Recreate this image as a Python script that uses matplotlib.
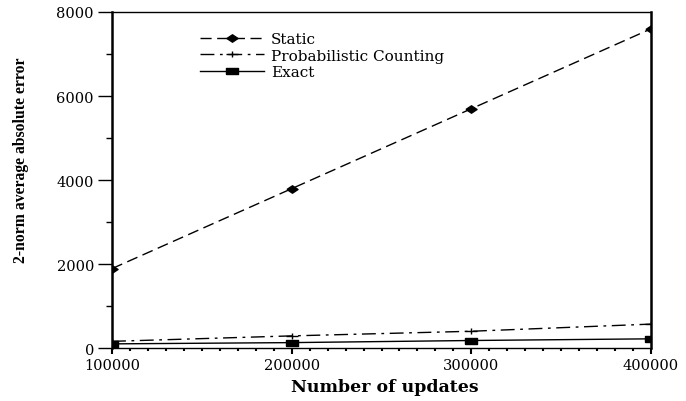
import matplotlib.pyplot as plt
from matplotlib.path import Path
from matplotlib.ticker import MultipleLocator

updates = [100000, 200000, 300000, 400000]
static_err = [1900, 3800, 5700, 7600]
prob_err = [170, 300, 410, 580]
exact_err = [110, 140, 190, 230]

# wide, flat marker shapes
diamond = Path([(-1.5, 0), (0, 1), (1.5, 0), (0, -1), (-1.5, 0)])
box = Path([(-1.7, -1), (1.7, -1), (1.7, 1), (-1.7, 1), (-1.7, -1)])
cross = Path([(-1.7, 0), (1.7, 0), (0, -1), (0, 1)],
             [Path.MOVETO, Path.LINETO, Path.MOVETO, Path.LINETO])

plt.rcParams["font.family"] = ["DejaVu Serif"]

fig = plt.figure(figsize=(6.86, 4.02), dpi=100)
ax = fig.add_axes([0.1633, 0.1306, 0.7857, 0.8371])

ax.plot(updates, static_err, color="black", linestyle=(0, (8, 4)), linewidth=1.0,
        marker=diamond, markersize=8, label="Static")
ax.plot(updates, prob_err, color="black", linestyle=(0, (10, 4, 2, 4)), linewidth=1.0,
        marker=cross, markersize=8, markerfacecolor="none", markeredgewidth=1.0,
        label="Probabilistic Counting")
ax.plot(updates, exact_err, color="black", linestyle="-", linewidth=1.0,
        marker=box, markersize=8.2, label="Exact")

ax.set_xlim(100000, 400000)
ax.set_ylim(0, 8000)
ax.xaxis.set_major_locator(MultipleLocator(100000))
ax.xaxis.set_minor_locator(MultipleLocator(10000))
ax.yaxis.set_major_locator(MultipleLocator(2000))
ax.yaxis.set_minor_locator(MultipleLocator(1000))
ax.tick_params(which="both", direction="out", top=False, right=False, labelsize=10.5)
ax.tick_params(axis="x", which="major", length=4.3, width=1.5, pad=2.5)
ax.tick_params(axis="x", which="minor", length=2.2, width=1.5)
ax.tick_params(axis="y", which="major", length=10, width=1.0, pad=3)
ax.tick_params(axis="y", which="minor", length=4.3, width=1.0)
ax.spines["left"].set_linewidth(1.8)
ax.spines["right"].set_linewidth(1.8)
ax.spines["top"].set_linewidth(1.0)
ax.spines["bottom"].set_linewidth(1.0)

ax.set_xlabel("Number of updates", fontsize=12.5, fontweight="bold", va="center")
ax.xaxis.set_label_coords(0.5056, -0.1144)
ax.set_ylabel("2-norm average absolute error", fontsize=11.3, fontweight="bold",
              family=["Liberation Serif"], va="center")
ax.yaxis.set_label_coords(-0.169, 0.563)

fig.legend(loc="upper left", bbox_to_anchor=(0.2915, 0.918), frameon=False,
           fontsize=11, handlelength=4.2, handletextpad=0.45, labelspacing=0.17,
           borderpad=0, borderaxespad=0)

fig.savefig("out.png", dpi=100)
